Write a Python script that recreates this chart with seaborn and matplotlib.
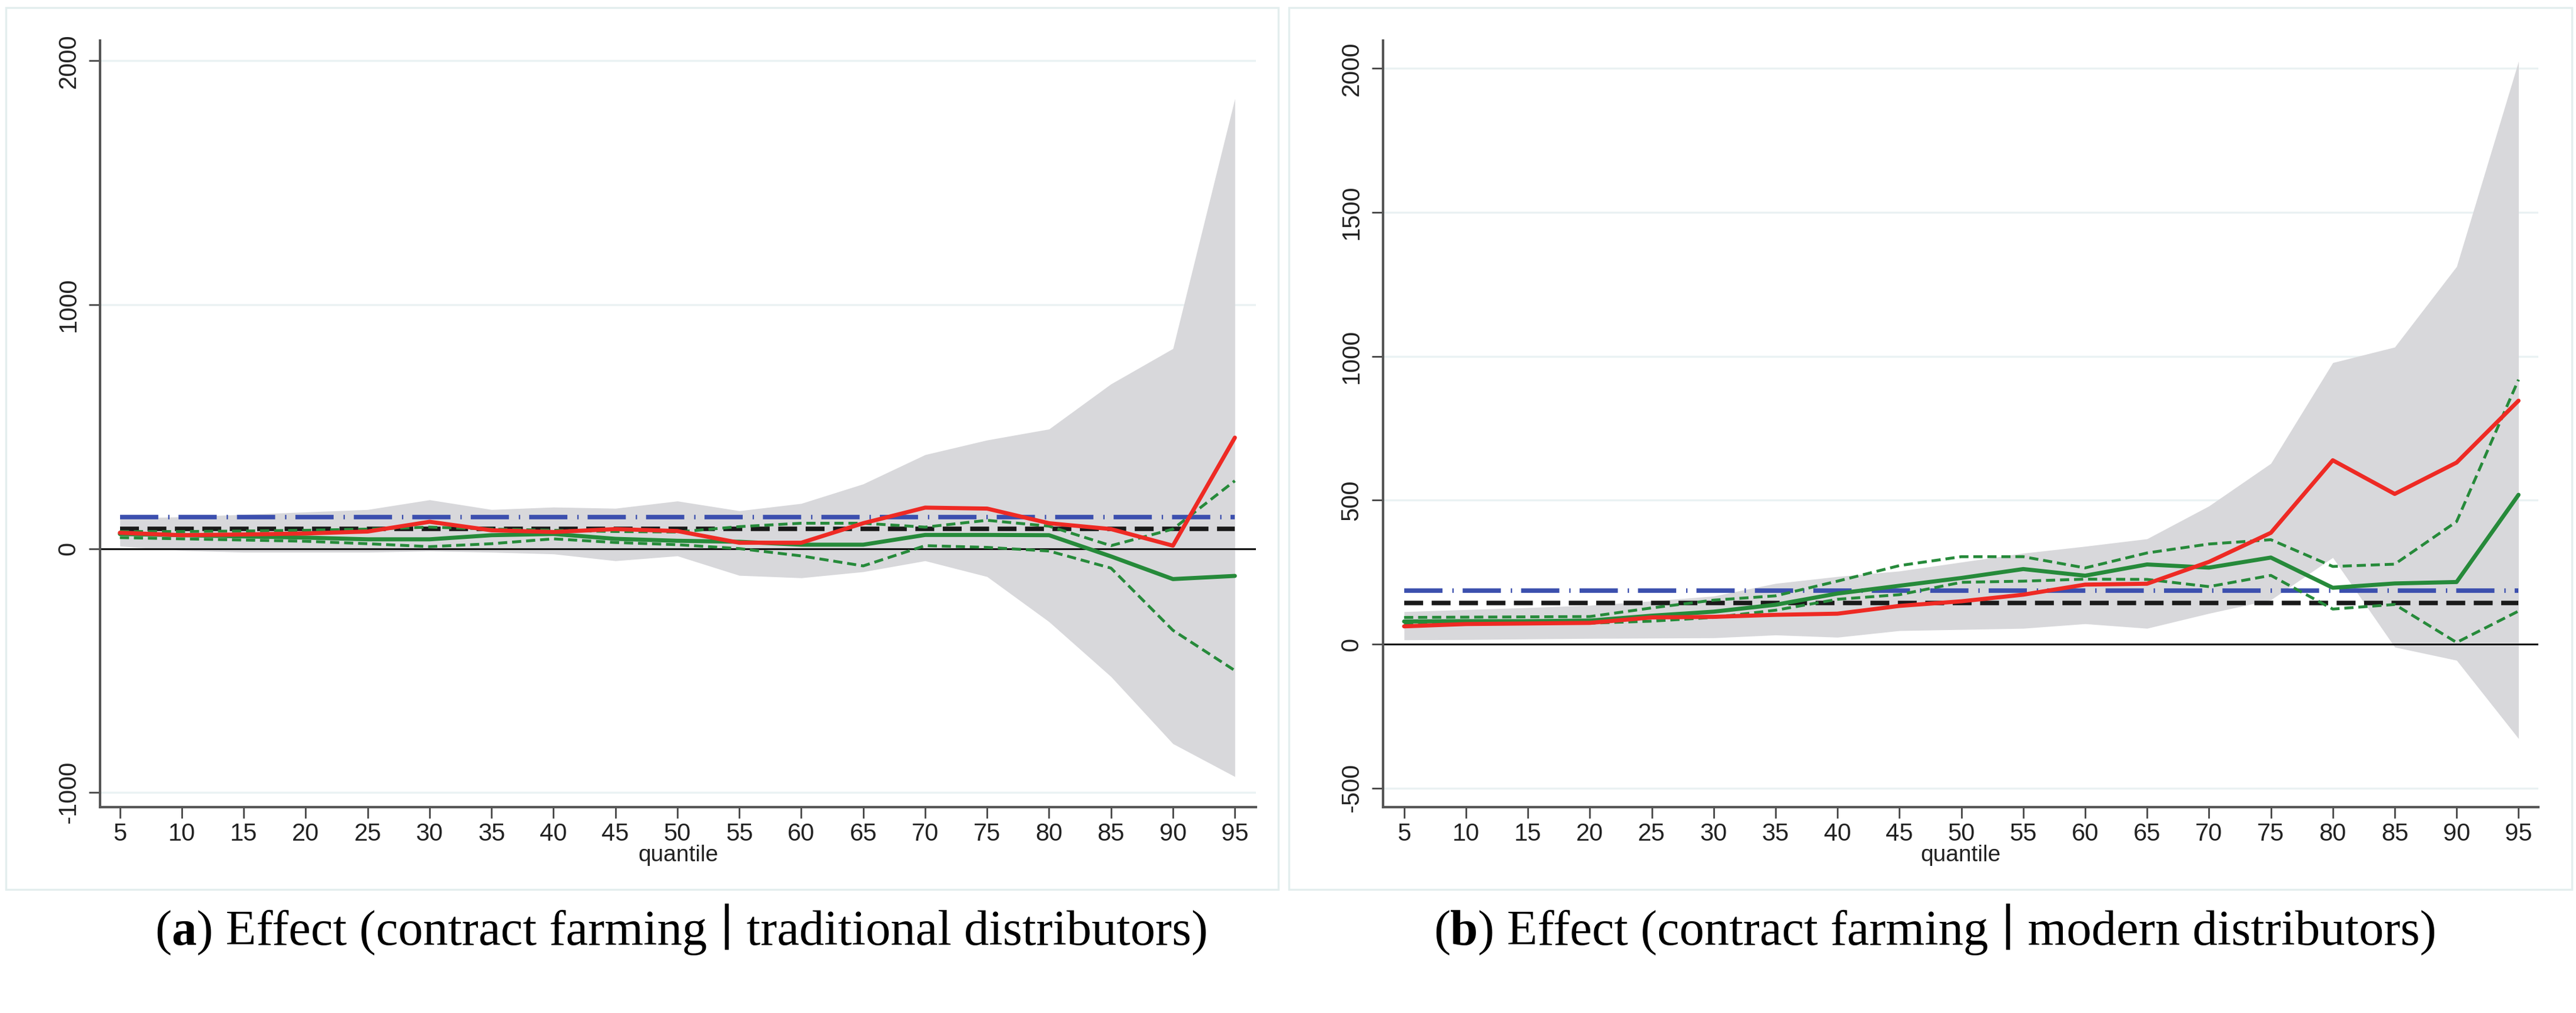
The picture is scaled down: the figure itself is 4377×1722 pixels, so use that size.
import matplotlib
matplotlib.use('Agg')
import matplotlib.pyplot as plt
import seaborn as sns
import numpy as np
import pandas as pd
from matplotlib.patches import Rectangle
from matplotlib.offsetbox import TextArea, HPacker, AnnotationBbox

quantiles = [5, 10, 15, 20, 25, 30, 35, 40, 45, 50, 55, 60, 65, 70, 75, 80, 85, 90, 95]

# (a) traditional distributors
a_upper = [125, 130, 140, 150, 160, 200, 160, 170, 165, 195, 155, 185, 265, 385, 445, 490, 675, 820, 1845]
a_lower = [10, -8, -15, -15, -15, -10, -15, -22, -50, -30, -110, -120, -95, -50, -115, -300, -525, -800, -935]
a_red = [65, 55, 58, 62, 70, 110, 75, 68, 80, 72, 24, 24, 104, 168, 164, 104, 80, 12, 455]
a_green = [60, 55, 50, 45, 38, 38, 55, 60, 40, 32, 28, 16, 16, 56, 56, 55, -32, -125, -112]
a_green_hi = [70, 70, 72, 75, 80, 88, 80, 75, 70, 68, 90, 104, 104, 88, 116, 92, 12, 80, 278]
a_green_lo = [45, 40, 35, 30, 20, 8, 20, 40, 25, 16, 0, -30, -71, 12, 5, -10, -80, -335, -500]
a_blue = 128
a_black = 80

# (b) modern distributors
b_upper = [113, 120, 127, 135, 150, 167, 211, 235, 254, 285, 316, 340, 366, 480, 628, 978, 1032, 1312, 2025]
b_lower = [15, 16, 18, 20, 21, 22, 32, 24, 47, 51, 55, 71, 55, 107, 154, 301, -10, -56, -328]
b_red = [62, 70, 72, 74, 93, 95, 102, 106, 133, 149, 172, 207, 210, 286, 387, 639, 522, 631, 846]
b_green = [79, 80, 80, 82, 99, 113, 137, 176, 203, 230, 261, 238, 277, 266, 301, 196, 211, 216, 519]
b_green_hi = [93, 94, 95, 96, 126, 153, 168, 219, 273, 304, 304, 265, 317, 348, 363, 270, 278, 426, 919]
b_green_lo = [72, 72, 72, 73, 80, 93, 118, 156, 172, 215, 219, 226, 225, 200, 239, 122, 138, 6, 115]
b_blue = 187
b_black = 144

sns.set_style('white')
plt.rcParams['font.family'] = ['Liberation Sans', 'DejaVu Sans']

RED = '#ee2a24'
GREEN = '#268a3a'
BLUE = '#3b4fae'
BAND = '#d8d8db'
GRID = '#eaf2f3'
AXC = '#555555'

W, H = 4377, 1722
fig = plt.figure(figsize=(W / 100, H / 100), dpi=100)
fig.patch.set_facecolor('white')


def fx(px):
    return px / W


def fy(py):
    return 1 - py / H


# panel frames
for x0, x1 in [(10, 2172), (2190, 4370)]:
    fig.add_artist(Rectangle((fx(x0), fy(1512)), fx(x1 - x0), (1512 - 13) / H,
                             transform=fig.transFigure, fill=False, ec='#e3eeee', lw=2.5))


def draw_panel(ax, upper, lower, red, green, hi, lo, blue, black, yticks, ylim, xlim):
    df = pd.DataFrame({'quantile': quantiles, 'red': red, 'green': green, 'hi': hi, 'lo': lo,
                       'blue': [blue] * len(quantiles), 'black': [black] * len(quantiles)})
    ax.fill_between(df['quantile'], lower, upper, color=BAND, lw=0, zorder=1)
    ax.axhline(0, color='#111111', lw=2.2, zorder=2)
    sns.lineplot(data=df, x='quantile', y='blue', ax=ax, color=BLUE, lw=5.5, zorder=3)
    ax.lines[-1].set_dashes((8.5, 2.2, 0.3, 2.0))
    sns.lineplot(data=df, x='quantile', y='black', ax=ax, color='#1a1a1a', lw=5.5, zorder=3)
    ax.lines[-1].set_dashes((4.2, 1.9))
    for col in ['hi', 'lo']:
        sns.lineplot(data=df, x='quantile', y=col, ax=ax, color=GREEN, lw=3.5, zorder=4)
        ax.lines[-1].set_dashes((3.2, 1.7))
    sns.lineplot(data=df, x='quantile', y='green', ax=ax, color=GREEN, lw=5, zorder=5)
    sns.lineplot(data=df, x='quantile', y='red', ax=ax, color=RED, lw=5, zorder=6)

    ax.set_xlim(*xlim)
    ax.set_ylim(*ylim)
    ax.set_xticks(quantiles)
    ax.set_xticklabels([str(q) for q in quantiles])
    ax.set_yticks(yticks)
    ax.set_yticklabels([str(t) for t in yticks], rotation=90, va='center')
    ax.yaxis.grid(True, color=GRID, lw=2.5)
    ax.xaxis.grid(False)
    ax.set_axisbelow(True)
    for s in ['top', 'right']:
        ax.spines[s].set_visible(False)
    for s in ['left', 'bottom']:
        ax.spines[s].set_color(AXC)
        ax.spines[s].set_linewidth(3)
    ax.tick_params(axis='both', direction='out', length=14, width=2, color='#444444',
                   labelsize=30, labelcolor='#222222', left=True, bottom=True)
    ax.tick_params(axis='x', pad=5)
    ax.tick_params(axis='y', pad=10)
    ax.set_xlabel('quantile', fontsize=28, color='#222222', labelpad=-2)
    ax.set_ylabel('')


bottom, top = fy(1372), fy(69)
ax_a = fig.add_axes([fx(170), bottom, fx(2134 - 170), top - bottom])
ax_b = fig.add_axes([fx(2350), bottom, fx(4313 - 2350), top - bottom])

draw_panel(ax_a, a_upper, a_lower, a_red, a_green, a_green_hi, a_green_lo, a_blue, a_black,
           [-1000, 0, 1000, 2000], (-1060, 2083), (3.4, 96.7))
draw_panel(ax_b, b_upper, b_lower, b_red, b_green, b_green_hi, b_green_lo, b_blue, b_black,
           [-500, 0, 500, 1000, 1500, 2000], (-566, 2097), (3.3, 96.6))

# captions
serif = ['Liberation Serif', 'DejaVu Serif']
for label, rest, cx in [('a', ') Effect (contract farming \u2223 traditional distributors)', 1158),
                        ('b', ') Effect (contract farming \u2223 modern distributors)', 3288)]:
    parts = [TextArea('(', textprops=dict(fontsize=61, family=serif, color='black')),
             TextArea(label, textprops=dict(fontsize=61, family=serif, fontweight='bold', color='black')),
             TextArea(rest, textprops=dict(fontsize=61, family=serif, color='black'))]
    box = HPacker(children=parts, pad=0, sep=0, align='baseline')
    ab = AnnotationBbox(box, (fx(cx), fy(1580)), xycoords='figure fraction',
                        frameon=False, box_alignment=(0.5, 0.5), pad=0)
    fig.add_artist(ab)

fig.savefig('out.png', dpi=100, facecolor='white')
